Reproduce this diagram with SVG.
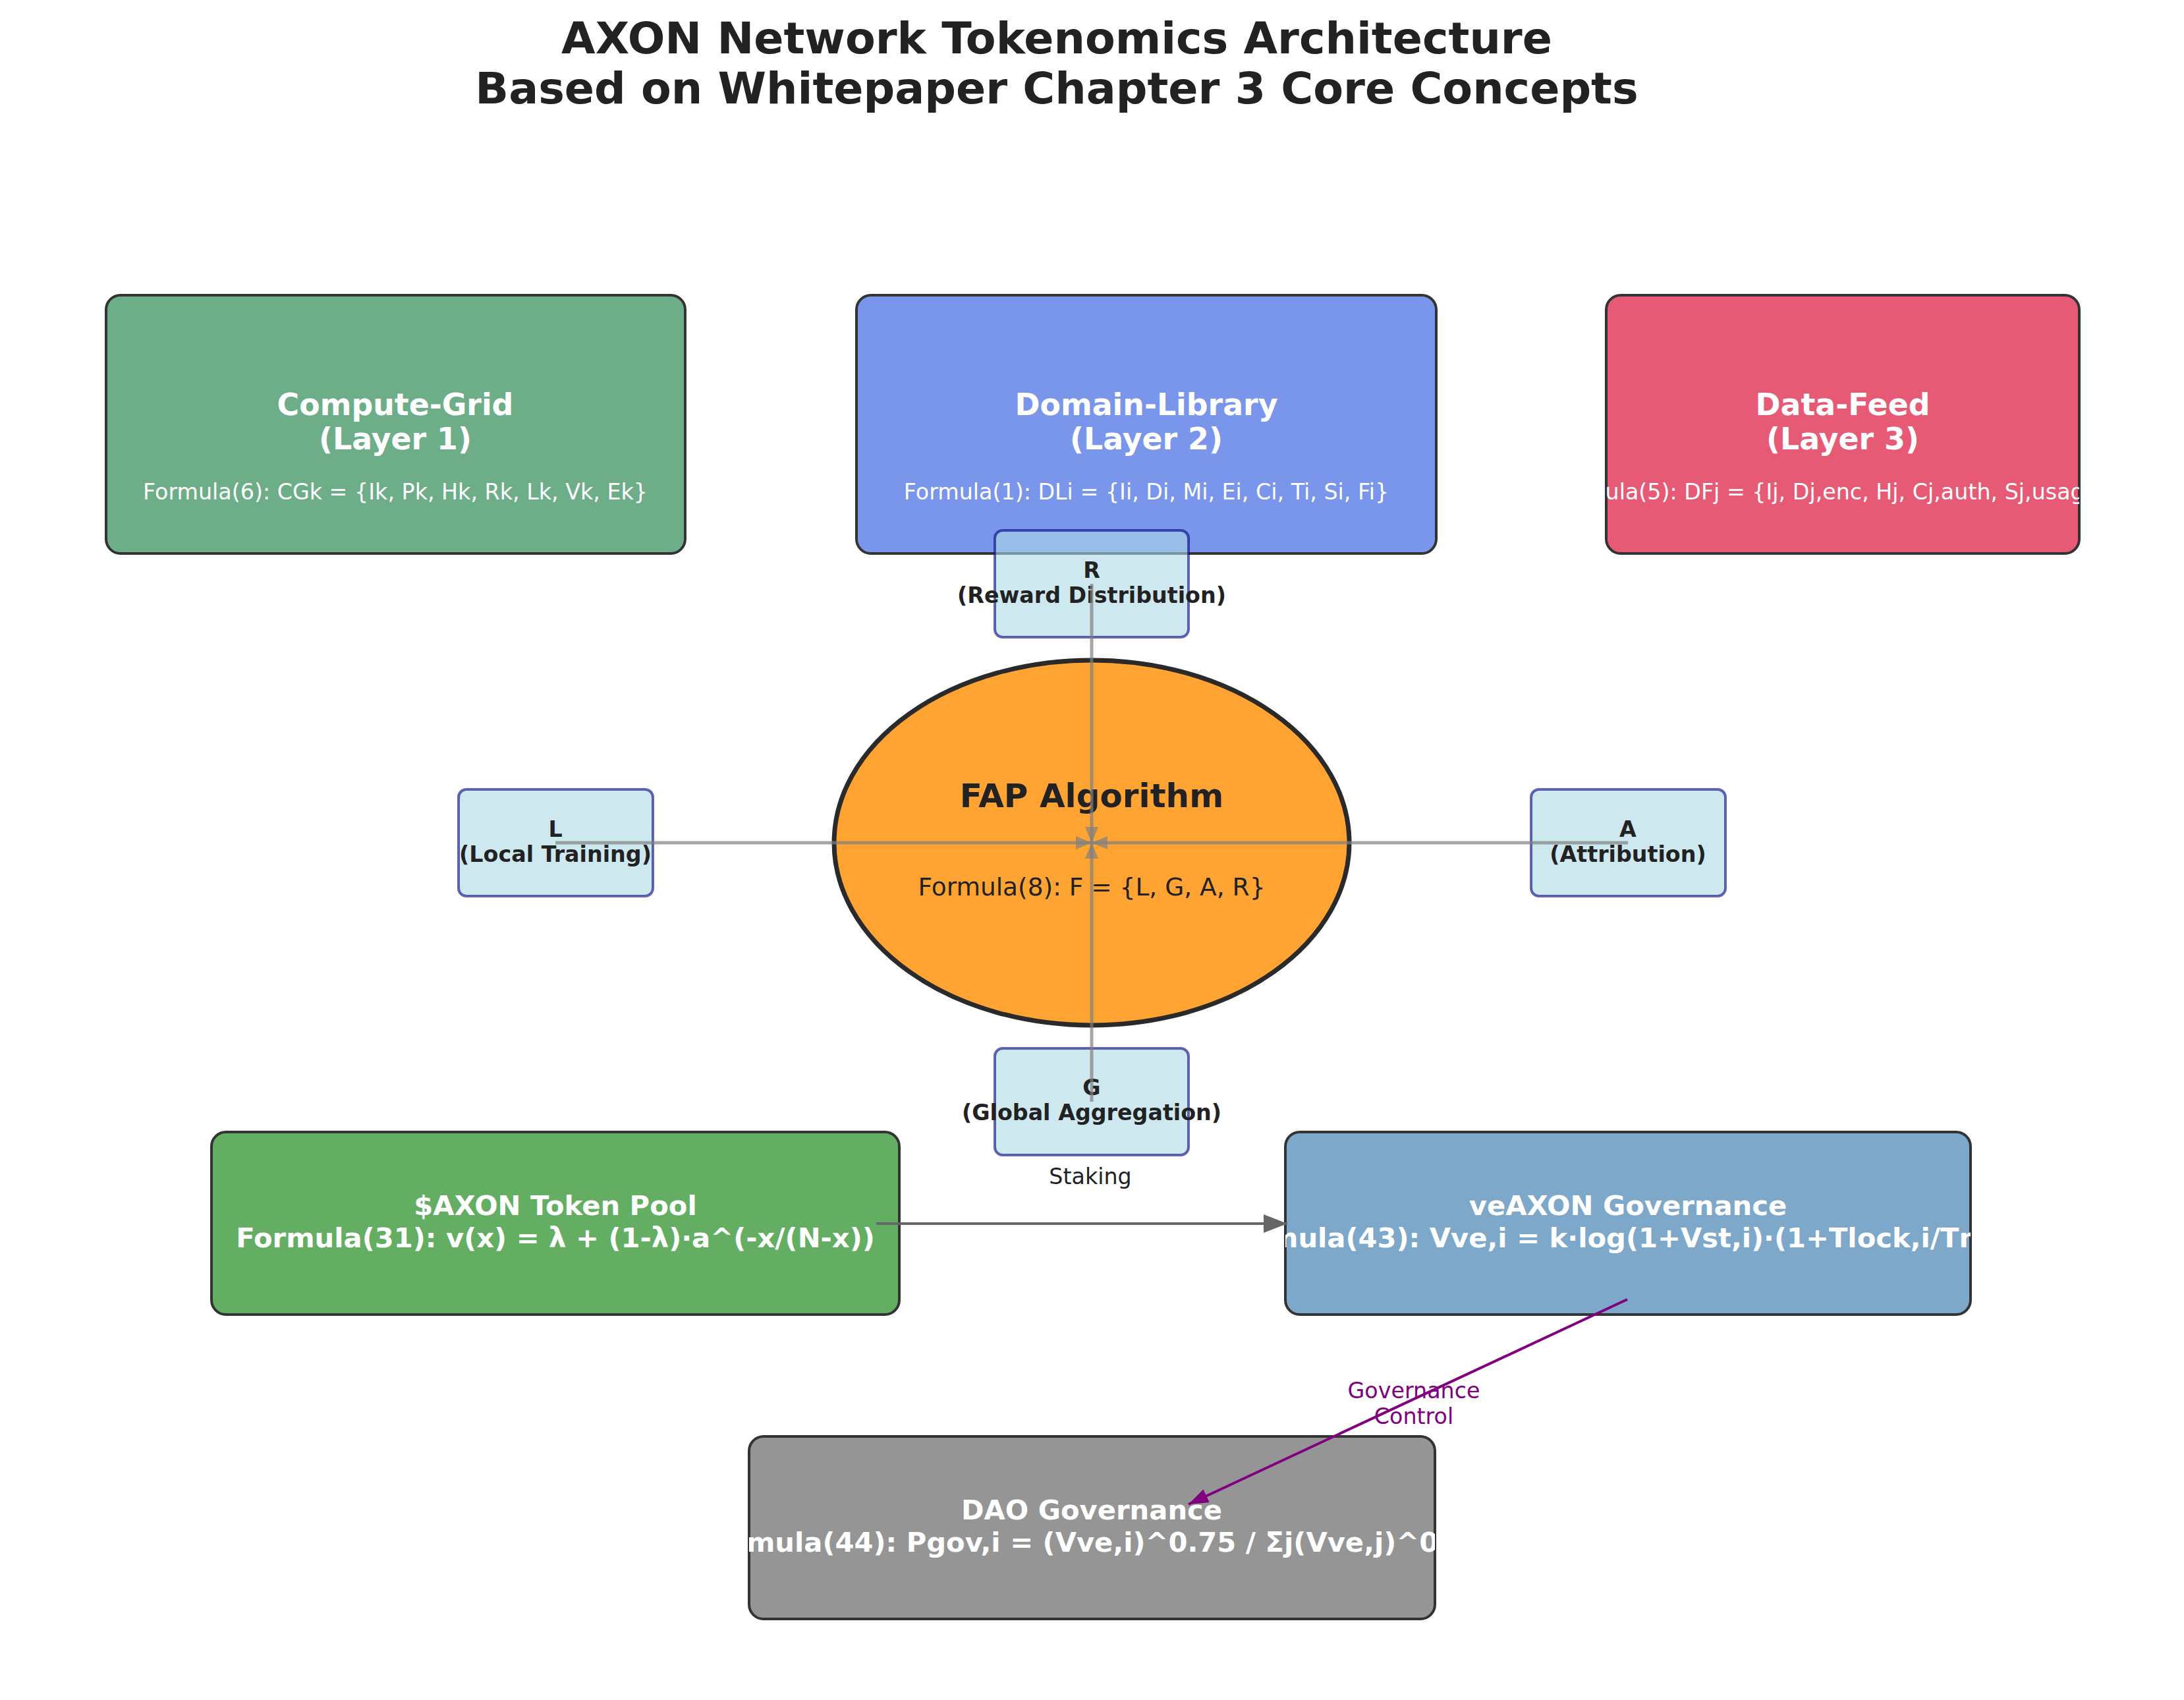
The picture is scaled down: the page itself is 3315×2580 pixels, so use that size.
<svg xmlns="http://www.w3.org/2000/svg" width="3315" height="2580" viewBox="0 0 3315 2580">
<style>
text{font-family:"DejaVu Sans","Liberation Sans",sans-serif;text-anchor:middle}
.t{font-weight:bold;font-size:66.7px;fill:#222}
.lt{font-weight:bold;font-size:45.8px;fill:#fff}
.lf{font-size:33.3px;fill:#fff}
.layer{stroke:#333;stroke-width:4}
.sb{fill:#ADD8E6;fill-opacity:0.6;stroke:#000080;stroke-opacity:0.6;stroke-width:4}
.st{font-weight:bold;font-size:33.3px;fill:#222}
.bt{font-weight:bold;font-size:41.7px;fill:#fff}
.fl{stroke:#808080;stroke-opacity:0.7;stroke-width:5;fill:none}
</style>
<defs>
<marker id="gh" viewBox="0 0 24 20" refX="24" refY="10" markerWidth="24" markerHeight="20" markerUnits="userSpaceOnUse" orient="auto"><path d="M0,0 L24,10 L0,20 z" fill="#808080" fill-opacity="0.7"/></marker>
<marker id="dh" viewBox="0 0 36 28" refX="36" refY="14" markerWidth="36" markerHeight="28" markerUnits="userSpaceOnUse" orient="auto"><path d="M0,0 L36,14 L0,28 z" fill="#666"/></marker>
<marker id="ph" viewBox="0 0 30 22" refX="30" refY="11" markerWidth="30" markerHeight="22" markerUnits="userSpaceOnUse" orient="auto"><path d="M0,0 L30,11 L0,22 z" fill="#800080"/></marker>
<clipPath id="cDF"><rect x="2438" y="448" width="718" height="392" rx="22"/></clipPath>
<clipPath id="cVE"><rect x="1951" y="1718" width="1040" height="277" rx="22"/></clipPath>
<clipPath id="cDAO"><rect x="1137" y="2180" width="1041" height="277" rx="22"/></clipPath>
</defs>
<rect width="3315" height="2580" fill="#fff"/>
<g id="title">
<text class="t" x="1604" y="81">AXON Network Tokenomics Architecture</text>
<text class="t" x="1604" y="157">Based on Whitepaper Chapter 3 Core Concepts</text>
</g>
<g id="compute-grid">
<rect class="layer" x="161" y="448" width="879" height="392" rx="22" fill="#6DAE89"/>
<text class="lt" x="600" y="630">Compute-Grid</text>
<text class="lt" x="600" y="682">(Layer 1)</text>
<text class="lf" x="600" y="758">Formula(6): CGk = {Ik, Pk, Hk, Rk, Lk, Vk, Ek}</text>
</g>
<g id="domain-library">
<rect class="layer" x="1300" y="448" width="880" height="392" rx="22" fill="#7A96EA"/>
<text class="lt" x="1740" y="630">Domain-Library</text>
<text class="lt" x="1740" y="682">(Layer 2)</text>
<text class="lf" x="1740" y="758">Formula(1): DLi = {Ii, Di, Mi, Ei, Ci, Ti, Si, Fi}</text>
</g>
<g id="data-feed">
<rect class="layer" x="2438" y="448" width="718" height="392" rx="22" fill="#E65A76"/>
<text class="lt" x="2797" y="630">Data-Feed</text>
<text class="lt" x="2797" y="682">(Layer 3)</text>
<text class="lf" x="2779" y="758" clip-path="url(#cDF)">Formula(5): DFj = {Ij, Dj,enc, Hj, Cj,auth, Sj,usage}</text>
</g>
<g id="fap">
<ellipse cx="1657" cy="1279" rx="391" ry="277" fill="#FFA333" stroke="#2a2a2a" stroke-width="7"/>
<text x="1657" y="1225" style="font-weight:bold;font-size:50px;fill:#222">FAP Algorithm</text>
<text x="1657" y="1359" style="font-size:37.5px;fill:#222">Formula(8): F = {L, G, A, R}</text>
</g>
<g id="node-r">
<rect class="sb" x="1510" y="805" width="294" height="162" rx="12"/>
<text class="st" x="1657" y="877">R</text>
<text class="st" x="1657" y="915">(Reward Distribution)</text>
</g>
<g id="node-l">
<rect class="sb" x="696" y="1198" width="295" height="162" rx="12"/>
<text class="st" x="843" y="1270">L</text>
<text class="st" x="843" y="1308">(Local Training)</text>
</g>
<g id="node-a">
<rect class="sb" x="2324" y="1198" width="295" height="162" rx="12"/>
<text class="st" x="2471" y="1270">A</text>
<text class="st" x="2471" y="1308">(Attribution)</text>
</g>
<g id="node-g">
<rect class="sb" x="1510" y="1591" width="294" height="162" rx="12"/>
<text class="st" x="1657" y="1662">G</text>
<text class="st" x="1657" y="1700">(Global Aggregation)</text>
</g>
<g id="axon-pool">
<rect class="layer" x="321" y="1718" width="1044" height="277" rx="22" fill="#64AE64"/>
<text class="bt" x="843" y="1844">$AXON Token Pool</text>
<text class="bt" x="843" y="1893">Formula(31): v(x) = λ + (1-λ)·a^(-x/(N-x))</text>
</g>
<g id="veaxon">
<rect class="layer" x="1951" y="1718" width="1040" height="277" rx="22" fill="#7EA8CA"/>
<text class="bt" x="2471" y="1844">veAXON Governance</text>
<text class="bt" x="2471" y="1893" clip-path="url(#cVE)">Formula(43): Vve,i = k·log(1+Vst,i)·(1+Tlock,i/Tmax)</text>
</g>
<g id="dao">
<rect class="layer" x="1137" y="2180" width="1041" height="277" rx="22" fill="#959595"/>
<text class="bt" x="1657" y="2306">DAO Governance</text>
<text class="bt" x="1657" y="2355" clip-path="url(#cDAO)">Formula(44): Pgov,i = (Vve,i)^0.75 / Σj(Vve,j)^0.75</text>
</g>
<g id="connectors">
<line class="fl" x1="843" y1="1279" x2="1657" y2="1279" marker-end="url(#gh)"/>
<line class="fl" x1="2471" y1="1279" x2="1657" y2="1279" marker-end="url(#gh)"/>
<line class="fl" x1="1657" y1="886" x2="1657" y2="1279" marker-end="url(#gh)"/>
<line class="fl" x1="1657" y1="1672" x2="1657" y2="1279" marker-end="url(#gh)"/>
<line x1="1330" y1="1857" x2="1954" y2="1857" stroke="#666" stroke-width="4" marker-end="url(#dh)"/>
<text x="1655" y="1797" style="font-size:33.3px;fill:#222">Staking</text>
<line x1="2470" y1="1972" x2="1804" y2="2283" stroke="#800080" stroke-width="4" marker-end="url(#ph)"/>
<text x="2146" y="2122" style="font-size:33.3px;fill:#800080">Governance</text>
<text x="2146" y="2161" style="font-size:33.3px;fill:#800080">Control</text>
</g>
</svg>
